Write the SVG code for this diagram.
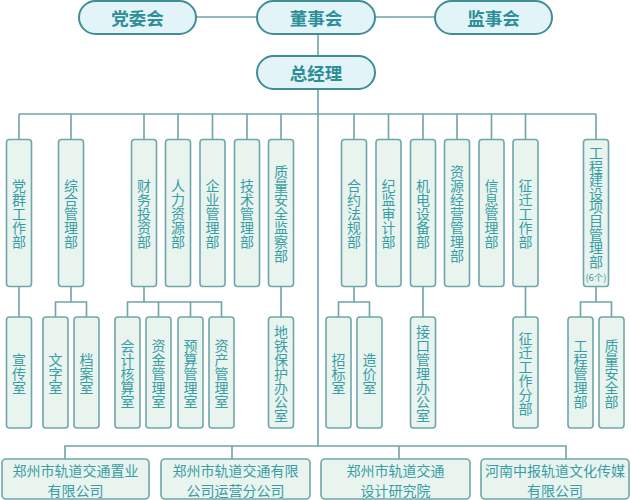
<svg xmlns="http://www.w3.org/2000/svg" width="631" height="500" viewBox="0 0 631 500">
<style>
.pill{fill:#e2f4f8;stroke:#3f8e94;stroke-width:2}
.pt{font-family:"Noto Sans CJK SC","Noto Sans",sans-serif;font-size:17.5px;font-weight:bold;fill:#2c8e96;text-anchor:middle;dominant-baseline:central}
.box{fill:#e9f4ef;stroke:#70a6aa;stroke-width:1.6}
.vt{font-family:"Noto Sans CJK SC","Noto Sans",sans-serif;font-size:14px;fill:#389da4;text-anchor:middle;dominant-baseline:central}
.ht{font-family:"Noto Sans CJK SC","Noto Sans",sans-serif;font-size:14px;fill:#389da4;text-anchor:middle;dominant-baseline:central}
.sm{font-family:"Noto Sans CJK SC","Noto Sans",sans-serif;font-size:9.5px;fill:#389da4;text-anchor:middle;dominant-baseline:central}
.ln{fill:none;stroke:#6fa4a8;stroke-width:1.6}
</style>
<rect width="631" height="500" fill="#ffffff"/>
<g id="connectors" class="ln">
<path d="M196,17H257M375,17H435M318,34V56M318,89V446"/>
<path d="M19,114H596"/>
<path d="M19,114V139.5M71,114V139.5M144,114V139.5M178,114V139.5M212.5,114V139.5M247,114V139.5M281,114V139.5M354,114V139.5M388.5,114V139.5M423,114V139.5M457,114V139.5M491.5,114V139.5M525.5,114V139.5M596,114V139.5"/>
<path d="M19,286.5V317M281,286.5V317M423,286.5V317M525.5,286.5V317"/>
<path d="M71,286.5V302M55.5,317V302H86.5V317"/>
<path d="M144,286.5V302M127.5,317V302H221.5V317M158.5,302V317M190.5,302V317"/>
<path d="M354,286.5V302M338.5,317V302H369.5V317"/>
<path d="M596,286.5V302M580.5,317V302H611.5V317"/>
<path d="M65,459V446H566V459M232,446V459M399,446V459"/>
</g>
<g id="n-dangwei"><rect class="pill" x="79" y="1" width="117" height="33" rx="16.5"/><text class="pt" x="137.5" y="17.5">党委会</text></g>
<g id="n-dongshi"><rect class="pill" x="257" y="1" width="118" height="33" rx="16.5"/><text class="pt" x="316" y="17.5">董事会</text></g>
<g id="n-jianshi"><rect class="pill" x="435" y="1" width="117" height="33" rx="16.5"/><text class="pt" x="493.5" y="17.5">监事会</text></g>
<g id="n-zongjingli"><rect class="pill" x="257" y="56" width="118" height="33" rx="16.5"/><text class="pt" x="316" y="72.5">总经理</text></g>

<g id="n-dangqun"><rect class="box" x="6.5" y="139.5" width="25" height="147" rx="3"/><text class="vt"><tspan x="19" y="185">党</tspan><tspan x="19" y="199">群</tspan><tspan x="19" y="213">工</tspan><tspan x="19" y="227">作</tspan><tspan x="19" y="241">部</tspan></text></g>
<g id="n-zonghe"><rect class="box" x="58.5" y="139.5" width="25" height="147" rx="3"/><text class="vt"><tspan x="71" y="185">综</tspan><tspan x="71" y="199">合</tspan><tspan x="71" y="213">管</tspan><tspan x="71" y="227">理</tspan><tspan x="71" y="241">部</tspan></text></g>
<g id="n-caiwu"><rect class="box" x="131.5" y="139.5" width="25" height="147" rx="3"/><text class="vt"><tspan x="144" y="185">财</tspan><tspan x="144" y="199">务</tspan><tspan x="144" y="213">投</tspan><tspan x="144" y="227">资</tspan><tspan x="144" y="241">部</tspan></text></g>
<g id="n-renli"><rect class="box" x="165.5" y="139.5" width="25" height="147" rx="3"/><text class="vt"><tspan x="178" y="185">人</tspan><tspan x="178" y="199">力</tspan><tspan x="178" y="213">资</tspan><tspan x="178" y="227">源</tspan><tspan x="178" y="241">部</tspan></text></g>
<g id="n-qiye"><rect class="box" x="200" y="139.5" width="25" height="147" rx="3"/><text class="vt"><tspan x="212.5" y="185">企</tspan><tspan x="212.5" y="199">业</tspan><tspan x="212.5" y="213">管</tspan><tspan x="212.5" y="227">理</tspan><tspan x="212.5" y="241">部</tspan></text></g>
<g id="n-jishu"><rect class="box" x="234.5" y="139.5" width="25" height="147" rx="3"/><text class="vt"><tspan x="247" y="185">技</tspan><tspan x="247" y="199">术</tspan><tspan x="247" y="213">管</tspan><tspan x="247" y="227">理</tspan><tspan x="247" y="241">部</tspan></text></g>
<g id="n-zhiliang"><rect class="box" x="268.5" y="139.5" width="25" height="147" rx="3"/><text class="vt"><tspan x="281" y="171">质</tspan><tspan x="281" y="185">量</tspan><tspan x="281" y="199">安</tspan><tspan x="281" y="213">全</tspan><tspan x="281" y="227">监</tspan><tspan x="281" y="241">察</tspan><tspan x="281" y="255">部</tspan></text></g>
<g id="n-heyue"><rect class="box" x="341.5" y="139.5" width="25" height="147" rx="3"/><text class="vt"><tspan x="354" y="185">合</tspan><tspan x="354" y="199">约</tspan><tspan x="354" y="213">法</tspan><tspan x="354" y="227">规</tspan><tspan x="354" y="241">部</tspan></text></g>
<g id="n-jijian"><rect class="box" x="376" y="139.5" width="25" height="147" rx="3"/><text class="vt"><tspan x="388.5" y="185">纪</tspan><tspan x="388.5" y="199">监</tspan><tspan x="388.5" y="213">审</tspan><tspan x="388.5" y="227">计</tspan><tspan x="388.5" y="241">部</tspan></text></g>
<g id="n-jidian"><rect class="box" x="410.5" y="139.5" width="25" height="147" rx="3"/><text class="vt"><tspan x="423" y="185">机</tspan><tspan x="423" y="199">电</tspan><tspan x="423" y="213">设</tspan><tspan x="423" y="227">备</tspan><tspan x="423" y="241">部</tspan></text></g>
<g id="n-ziyuan"><rect class="box" x="444.5" y="139.5" width="25" height="147" rx="3"/><text class="vt"><tspan x="457" y="171">资</tspan><tspan x="457" y="185">源</tspan><tspan x="457" y="199">经</tspan><tspan x="457" y="213">营</tspan><tspan x="457" y="227">管</tspan><tspan x="457" y="241">理</tspan><tspan x="457" y="255">部</tspan></text></g>
<g id="n-xinxi"><rect class="box" x="479" y="139.5" width="25" height="147" rx="3"/><text class="vt"><tspan x="491.5" y="185">信</tspan><tspan x="491.5" y="199">息</tspan><tspan x="491.5" y="213">管</tspan><tspan x="491.5" y="227">理</tspan><tspan x="491.5" y="241">部</tspan></text></g>
<g id="n-zhengqian"><rect class="box" x="513" y="139.5" width="25" height="147" rx="3"/><text class="vt"><tspan x="525.5" y="185">征</tspan><tspan x="525.5" y="199">迁</tspan><tspan x="525.5" y="213">工</tspan><tspan x="525.5" y="227">作</tspan><tspan x="525.5" y="241">部</tspan></text></g>
<g id="n-gongcheng"><rect class="box" x="583.5" y="139.5" width="25" height="147" rx="3"/><text class="vt"><tspan x="596" y="152">工</tspan><tspan x="596" y="165.6">程</tspan><tspan x="596" y="179.2">建</tspan><tspan x="596" y="192.8">设</tspan><tspan x="596" y="206.4">项</tspan><tspan x="596" y="220">目</tspan><tspan x="596" y="233.6">管</tspan><tspan x="596" y="247.2">理</tspan><tspan x="596" y="260.8">部</tspan></text><text class="sm" x="596" y="277">(6个)</text></g>

<g id="n-xuanchuan"><rect class="box" x="6.5" y="317" width="25" height="111" rx="3"/><text class="vt"><tspan x="19" y="358.5">宣</tspan><tspan x="19" y="372.5">传</tspan><tspan x="19" y="386.5">室</tspan></text></g>
<g id="n-wenzi"><rect class="box" x="43" y="317" width="25" height="111" rx="3"/><text class="vt"><tspan x="55.5" y="358.5">文</tspan><tspan x="55.5" y="372.5">字</tspan><tspan x="55.5" y="386.5">室</tspan></text></g>
<g id="n-dangan"><rect class="box" x="74" y="317" width="25" height="111" rx="3"/><text class="vt"><tspan x="86.5" y="358.5">档</tspan><tspan x="86.5" y="372.5">案</tspan><tspan x="86.5" y="386.5">室</tspan></text></g>
<g id="n-kuaiji"><rect class="box" x="115" y="317" width="25" height="111" rx="3"/><text class="vt"><tspan x="127.5" y="344.5">会</tspan><tspan x="127.5" y="358.5">计</tspan><tspan x="127.5" y="372.5">核</tspan><tspan x="127.5" y="386.5">算</tspan><tspan x="127.5" y="400.5">室</tspan></text></g>
<g id="n-zijin"><rect class="box" x="146" y="317" width="25" height="111" rx="3"/><text class="vt"><tspan x="158.5" y="344.5">资</tspan><tspan x="158.5" y="358.5">金</tspan><tspan x="158.5" y="372.5">管</tspan><tspan x="158.5" y="386.5">理</tspan><tspan x="158.5" y="400.5">室</tspan></text></g>
<g id="n-yusuan"><rect class="box" x="178" y="317" width="25" height="111" rx="3"/><text class="vt"><tspan x="190.5" y="344.5">预</tspan><tspan x="190.5" y="358.5">算</tspan><tspan x="190.5" y="372.5">管</tspan><tspan x="190.5" y="386.5">理</tspan><tspan x="190.5" y="400.5">室</tspan></text></g>
<g id="n-zichan"><rect class="box" x="209" y="317" width="25" height="111" rx="3"/><text class="vt"><tspan x="221.5" y="344.5">资</tspan><tspan x="221.5" y="358.5">产</tspan><tspan x="221.5" y="372.5">管</tspan><tspan x="221.5" y="386.5">理</tspan><tspan x="221.5" y="400.5">室</tspan></text></g>
<g id="n-ditie"><rect class="box" x="268.5" y="317" width="25" height="111" rx="3"/><text class="vt"><tspan x="281" y="330.5">地</tspan><tspan x="281" y="344.5">铁</tspan><tspan x="281" y="358.5">保</tspan><tspan x="281" y="372.5">护</tspan><tspan x="281" y="386.5">办</tspan><tspan x="281" y="400.5">公</tspan><tspan x="281" y="414.5">室</tspan></text></g>
<g id="n-zhaobiao"><rect class="box" x="326" y="317" width="25" height="111" rx="3"/><text class="vt"><tspan x="338.5" y="358.5">招</tspan><tspan x="338.5" y="372.5">标</tspan><tspan x="338.5" y="386.5">室</tspan></text></g>
<g id="n-zaojia"><rect class="box" x="357" y="317" width="25" height="111" rx="3"/><text class="vt"><tspan x="369.5" y="358.5">造</tspan><tspan x="369.5" y="372.5">价</tspan><tspan x="369.5" y="386.5">室</tspan></text></g>
<g id="n-jiekou"><rect class="box" x="410.5" y="317" width="25" height="111" rx="3"/><text class="vt"><tspan x="423" y="330.5">接</tspan><tspan x="423" y="344.5">口</tspan><tspan x="423" y="358.5">管</tspan><tspan x="423" y="372.5">理</tspan><tspan x="423" y="386.5">办</tspan><tspan x="423" y="400.5">公</tspan><tspan x="423" y="414.5">室</tspan></text></g>
<g id="n-zhengqianfen"><rect class="box" x="513" y="317" width="25" height="111" rx="3"/><text class="vt"><tspan x="525.5" y="337.5">征</tspan><tspan x="525.5" y="351.5">迁</tspan><tspan x="525.5" y="365.5">工</tspan><tspan x="525.5" y="379.5">作</tspan><tspan x="525.5" y="393.5">分</tspan><tspan x="525.5" y="407.5">部</tspan></text></g>
<g id="n-gcgl"><rect class="box" x="568" y="317" width="25" height="111" rx="3"/><text class="vt"><tspan x="580.5" y="344.5">工</tspan><tspan x="580.5" y="358.5">程</tspan><tspan x="580.5" y="372.5">管</tspan><tspan x="580.5" y="386.5">理</tspan><tspan x="580.5" y="400.5">部</tspan></text></g>
<g id="n-zlaq"><rect class="box" x="599" y="317" width="25" height="111" rx="3"/><text class="vt"><tspan x="611.5" y="344.5">质</tspan><tspan x="611.5" y="358.5">量</tspan><tspan x="611.5" y="372.5">安</tspan><tspan x="611.5" y="386.5">全</tspan><tspan x="611.5" y="400.5">部</tspan></text></g>

<g id="n-zhiye"><rect class="box" x="2" y="459" width="147" height="40" rx="4"/><text class="ht"><tspan x="75.5" y="469.5">郑州市轨道交通置业</tspan><tspan x="75.5" y="489.5">有限公司</tspan></text></g>
<g id="n-yunying"><rect class="box" x="161" y="459" width="149" height="40" rx="4"/><text class="ht"><tspan x="235.5" y="469.5">郑州市轨道交通有限</tspan><tspan x="235.5" y="489.5">公司运营分公司</tspan></text></g>
<g id="n-sheji"><rect class="box" x="321" y="459" width="149" height="40" rx="4"/><text class="ht"><tspan x="395.5" y="469.5">郑州市轨道交通</tspan><tspan x="395.5" y="489.5">设计研究院</tspan></text></g>
<g id="n-chuanmei"><rect class="box" x="481" y="459" width="148" height="40" rx="4"/><text class="ht"><tspan x="555" y="469.5">河南中报轨道文化传媒</tspan><tspan x="555" y="489.5">有限公司</tspan></text></g>
</svg>
